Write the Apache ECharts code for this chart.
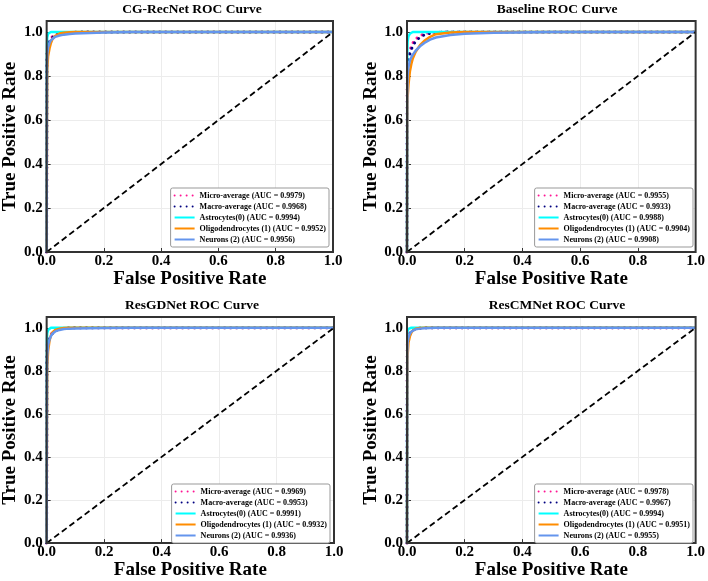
<!DOCTYPE html>
<html>
<head>
<meta charset="utf-8">
<script src="https://cdn.jsdelivr.net/npm/echarts@6/dist/echarts.min.js"></script>
<style>html,body{margin:0;padding:0;background:#fff}#c{width:708px;height:581px}</style>
</head>
<body>
<div id="c"></div>
<script>
// ---- data ----
const panelTitles = ['CG-RecNet ROC Curve', 'Baseline ROC Curve', 'ResGDNet ROC Curve', 'ResCMNet ROC Curve'];
const classNames = ['Micro-average', 'Macro-average', 'Astrocytes(0)', 'Oligodendrocytes (1)', 'Neurons (2)'];
const tickLabels = ['0.0', '0.2', '0.4', '0.6', '0.8', '1.0'];
const fpr = [0, 0.001, 0.002, 0.005, 0.01, 0.015, 0.02, 0.03, 0.045, 0.06, 0.08, 0.1, 0.15, 0.2, 0.3, 0.5, 1.0];

const aucCG = ['0.9979', '0.9968', '0.9994', '0.9952', '0.9956'];
const aucBase = ['0.9955', '0.9933', '0.9988', '0.9904', '0.9908'];
const aucGD = ['0.9969', '0.9953', '0.9991', '0.9932', '0.9936'];
const aucCM = ['0.9978', '0.9967', '0.9994', '0.9951', '0.9955'];

const cgMicro = [0, 0.88, 0.92, 0.945, 0.962, 0.973, 0.981, 0.989, 0.995, 0.997, 0.998, 0.999, 1, 1, 1, 1, 1];
const cgMacro = [0, 0.86, 0.905, 0.935, 0.955, 0.968, 0.977, 0.986, 0.993, 0.996, 0.998, 0.999, 1, 1, 1, 1, 1];
const cgAstro = [0, 0.93, 0.975, 0.992, 0.998, 1, 1, 1, 1, 1, 1, 1, 1, 1, 1, 1, 1];
const cgOligo = [0, 0.55, 0.83, 0.89, 0.925, 0.95, 0.967, 0.983, 0.993, 0.997, 0.999, 1, 1, 1, 1, 1, 1];
const cgNeur = [0, 0.84, 0.9, 0.93, 0.95, 0.963, 0.97, 0.978, 0.984, 0.988, 0.991, 0.993, 0.996, 0.998, 1, 1, 1];

const baseMicro = [0, 0.8, 0.86, 0.89, 0.915, 0.935, 0.95, 0.968, 0.983, 0.992, 0.997, 0.999, 1, 1, 1, 1, 1];
const baseMacro = [0, 0.78, 0.84, 0.875, 0.9, 0.92, 0.937, 0.958, 0.976, 0.987, 0.994, 0.998, 1, 1, 1, 1, 1];
const baseAstro = [0, 0.9, 0.955, 0.98, 0.992, 0.997, 1, 1, 1, 1, 1, 1, 1, 1, 1, 1, 1];
const baseOligo = [0, 0.5, 0.7, 0.76, 0.82, 0.855, 0.88, 0.91, 0.94, 0.96, 0.978, 0.99, 0.998, 1, 1, 1, 1];
const baseNeur = [0, 0.72, 0.8, 0.84, 0.87, 0.885, 0.897, 0.915, 0.935, 0.95, 0.965, 0.975, 0.986, 0.992, 0.997, 1, 1];

const gdMicro = [0, 0.88, 0.92, 0.94, 0.955, 0.968, 0.978, 0.99, 0.996, 0.998, 0.999, 1, 1, 1, 1, 1, 1];
const gdMacro = [0, 0.86, 0.905, 0.93, 0.948, 0.962, 0.973, 0.986, 0.994, 0.997, 0.999, 1, 1, 1, 1, 1, 1];
const gdAstro = [0, 0.95, 0.975, 0.99, 0.997, 1, 1, 1, 1, 1, 1, 1, 1, 1, 1, 1, 1];
const gdOligo = [0, 0.55, 0.82, 0.89, 0.94, 0.965, 0.978, 0.99, 0.996, 0.999, 1, 1, 1, 1, 1, 1, 1];
const gdNeur = [0, 0.8, 0.87, 0.92, 0.945, 0.962, 0.972, 0.983, 0.99, 0.994, 0.996, 0.997, 0.998, 0.999, 1, 1, 1];

const cmMicro = [0, 0.92, 0.95, 0.965, 0.978, 0.988, 0.993, 0.997, 0.999, 1, 1, 1, 1, 1, 1, 1, 1];
const cmMacro = [0, 0.9, 0.94, 0.958, 0.972, 0.983, 0.99, 0.996, 0.998, 1, 1, 1, 1, 1, 1, 1, 1];
const cmAstro = [0, 0.97, 0.985, 0.995, 1, 1, 1, 1, 1, 1, 1, 1, 1, 1, 1, 1, 1];
const cmOligo = [0, 0.6, 0.87, 0.93, 0.96, 0.977, 0.987, 0.995, 0.999, 1, 1, 1, 1, 1, 1, 1, 1];
const cmNeur = [0, 0.88, 0.93, 0.955, 0.972, 0.982, 0.988, 0.993, 0.996, 0.998, 0.999, 1, 1, 1, 1, 1, 1];

const diagX = [0, 1];
const diagY = [0, 1];

// ---- build ----
const panels = [
  {auc: aucCG, curves: [cgMicro, cgMacro, cgAstro, cgOligo, cgNeur]},
  {auc: aucBase, curves: [baseMicro, baseMacro, baseAstro, baseOligo, baseNeur]},
  {auc: aucGD, curves: [gdMicro, gdMacro, gdAstro, gdOligo, gdNeur]},
  {auc: aucCM, curves: [cmMicro, cmMacro, cmAstro, cmOligo, cmNeur]}
];
const colors = ['#ff1493', '#000080', '#00ffff', '#ff8c00', '#6495ed'];
const FONT = 'Liberation Serif';
const grids = [
  {left: 41, right: 375, top: 21, bottom: 329},
  {left: 407, right: 11, top: 21, bottom: 329},
  {left: 41, right: 374, top: 317, bottom: 33},
  {left: 407, right: 11, top: 317, bottom: 33}
];
const legendPos = [
  {right: 379, bottom: 334},
  {right: 15, bottom: 334},
  {right: 378, bottom: 38},
  {right: 15, bottom: 38}
];
const titlePos = [
  {left: 187, top: -2}, {left: 552, top: -2}, {left: 187, top: 294}, {left: 552, top: 294}
];

const option = {
  animation: false,
  backgroundColor: '#fff',
  title: panelTitles.map((t, i) => ({
    text: t, left: titlePos[i].left, top: titlePos[i].top, textAlign: 'center',
    textStyle: {fontFamily: FONT, fontWeight: 'bold', fontSize: 13.5, color: '#000'}
  })),
  grid: grids.map(g => Object.assign({show: true, z: 20, borderColor: '#333', borderWidth: 2, backgroundColor: 'transparent'}, g)),
  xAxis: grids.map((g, i) => ({
    type: 'value', gridIndex: i, min: 0, max: 1, interval: 0.2,
    name: 'False Positive Rate', nameLocation: 'middle', nameGap: 17,
    nameTextStyle: {fontFamily: FONT, fontWeight: 'bold', fontSize: 19, color: '#000'},
    axisLine: {show: false},
    axisTick: {show: true, inside: true, length: 4, lineStyle: {color: '#333', width: 1}},
    axisLabel: {margin: 2, fontFamily: FONT, fontWeight: 'bold', fontSize: 15, color: '#000',
      formatter: v => tickLabels[Math.round(v / 0.2)] || ''},
    splitLine: {show: true, lineStyle: {color: '#ececec', width: 1}}
  })),
  yAxis: grids.map((g, i) => ({
    type: 'value', gridIndex: i, min: 0, max: 1.05, interval: 0.2,
    name: 'True Positive Rate', nameLocation: 'middle', nameGap: 22,
    nameTextStyle: {fontFamily: FONT, fontWeight: 'bold', fontSize: 19, color: '#000'},
    axisLine: {show: false},
    axisTick: {show: true, inside: true, length: 4, lineStyle: {color: '#333', width: 1}},
    axisLabel: {margin: 4, showMaxLabel: false, fontFamily: FONT, fontWeight: 'bold', fontSize: 15, color: '#000',
      formatter: v => (Math.abs(v - 1.05) < 1e-6 ? '' : (tickLabels[Math.round(v / 0.2)] || ''))},
    splitLine: {show: true, lineStyle: {color: '#ececec', width: 1}}
  })),
  legend: panels.map((p, i) => Object.assign({
    orient: 'vertical',
    z: 30,
    data: classNames.map((n, k) => n + ' (AUC = ' + p.auc[k] + ')'),
    itemWidth: 20, itemHeight: 9, itemGap: 2,
    padding: [3, 3, 3, 3],
    itemStyle: {opacity: 0, borderWidth: 0},
    backgroundColor: '#fff', borderColor: '#999', borderWidth: 1, borderRadius: 2,
    textStyle: {fontFamily: FONT, fontWeight: 'bold', fontSize: 8, color: '#000', lineHeight: 9}
  }, legendPos[i])),
  series: []
};

panels.forEach((p, i) => {
  p.curves.forEach((tpr, k) => {
    const dotted = k < 2;
    option.series.push({
      type: 'line', name: classNames[k] + ' (AUC = ' + p.auc[k] + ')',
      xAxisIndex: i, yAxisIndex: i, symbol: 'none', showSymbol: false,
      data: fpr.map((x, j) => [j === 0 ? 0 : x, tpr[j]]),
      color: colors[k],
      lineStyle: dotted
        ? {color: colors[k], width: 3, type: [0.01, 6], cap: 'round'}
        : {color: colors[k], width: 2.5},
      z: 3 + k
    });
  });
  option.series.push({
    type: 'line', name: 'diag' + i, xAxisIndex: i, yAxisIndex: i, symbol: 'none',
    data: diagX.map((x, j) => [x, diagY[j]]),
    lineStyle: {color: '#000', width: 1.8, type: [6, 3.5]}, z: 10
  });
});

const chart = echarts.init(document.getElementById('c'), null, {renderer: 'canvas'});
chart.setOption(option);
</script>
</body>
</html>
